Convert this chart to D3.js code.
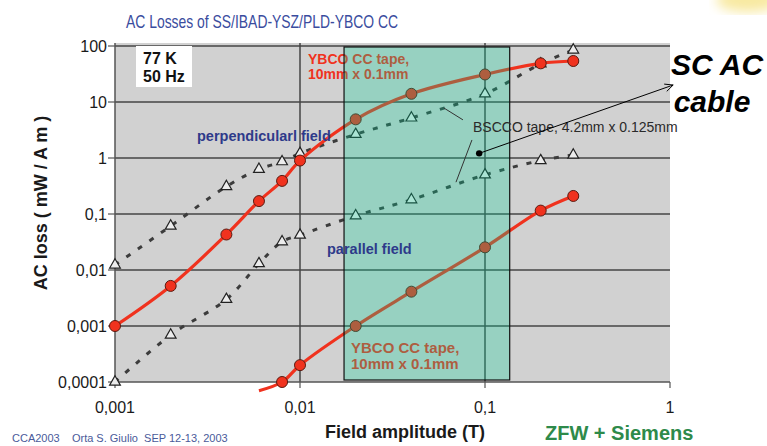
<!DOCTYPE html>
<html>
<head>
<meta charset="utf-8">
<script src="https://cdn.jsdelivr.net/npm/d3@7"></script>
<style>
  html, body { margin: 0; padding: 0; background: #fff; }
  svg { display: block; font-family: "Liberation Sans", Arial, sans-serif; }
</style>
</head>
<body>
<div id="chart"></div>
<script>
// Field amplitude (T) and AC loss (mW / A m)
const ybcoPerpX = [0.001, 0.002, 0.004, 0.006, 0.008, 0.01, 0.02, 0.04, 0.1, 0.2, 0.3];
const ybcoPerpY = [0.001, 0.0052, 0.043, 0.17, 0.39, 0.9, 4.9, 14, 31, 49, 54];

const bsccoPerpX = [0.001, 0.002, 0.004, 0.006, 0.008, 0.01, 0.02, 0.04, 0.1, 0.2, 0.3];
const bsccoPerpY = [0.0123, 0.061, 0.31, 0.63, 0.86, 1.21, 2.65, 5.2, 14, 48, 85];

const bsccoParX = [0.001, 0.002, 0.004, 0.006, 0.008, 0.01, 0.02, 0.04, 0.1, 0.2, 0.3];
const bsccoParY = [0.0001, 0.00069, 0.003, 0.013, 0.032, 0.042, 0.093, 0.18, 0.5, 0.9, 1.13];

const ybcoParX = [0.006, 0.008, 0.01, 0.02, 0.04, 0.1, 0.2, 0.3];
const ybcoParY = [0.00007, 0.0001, 0.0002, 0.001, 0.0041, 0.0254, 0.115, 0.21];

const xTicks = [0.001, 0.01, 0.1, 1];
const yTicks = [0.0001, 0.001, 0.01, 0.1, 1, 10, 100];
const fmtComma = v => String(v).replace(".", ",");

// highlighted range of the SC AC cable
const bandX = [0.0173, 0.136];

const W = 767, H = 446;
const svg = d3.select("#chart").append("svg").attr("width", W).attr("height", H);

const x = d3.scaleLog().domain([0.001, 1]).range([115, 670]);
const y = d3.scaleLog().domain([0.0001, 100]).range([382, 46]);

// faint yellow blob top right
svg.append("defs").append("filter").attr("id", "blur")
  .append("feGaussianBlur").attr("stdDeviation", 6);
svg.append("ellipse").attr("cx", 748).attr("cy", 0).attr("rx", 32).attr("ry", 12)
  .attr("fill", "#f8e9a0").attr("filter", "url(#blur)");

// plot background
svg.append("rect").attr("x", 115).attr("y", 43).attr("width", 555).attr("height", 339)
  .attr("fill", "#d1d1d1");

// grid
svg.append("g").selectAll("line").data(yTicks.slice(1)).join("line")
  .attr("x1", 115).attr("x2", 670).attr("y1", d => y(d)).attr("y2", d => y(d))
  .attr("stroke", "#444").attr("stroke-width", 1.5);
svg.append("g").selectAll("line").data([0.01, 0.1]).join("line")
  .attr("x1", d => x(d)).attr("x2", d => x(d)).attr("y1", 43).attr("y2", 382)
  .attr("stroke", "#444").attr("stroke-width", 1.5);

// axes
svg.append("line").attr("x1", 115).attr("x2", 115).attr("y1", 43).attr("y2", 382)
  .attr("stroke", "#555").attr("stroke-width", 1.5);
svg.append("line").attr("x1", 115).attr("x2", 670).attr("y1", 382).attr("y2", 382)
  .attr("stroke", "#555").attr("stroke-width", 1.5);
svg.append("g").selectAll("line").data(yTicks).join("line")
  .attr("x1", 108).attr("x2", 115).attr("y1", d => y(d)).attr("y2", d => y(d))
  .attr("stroke", "#555").attr("stroke-width", 1.2);
svg.append("g").selectAll("line").data(xTicks).join("line")
  .attr("x1", d => x(d)).attr("x2", d => x(d)).attr("y1", 382).attr("y2", 388)
  .attr("stroke", "#555").attr("stroke-width", 1.2);

svg.append("g").selectAll("text").data(yTicks).join("text")
  .attr("x", 107).attr("y", d => y(d) + 6).attr("text-anchor", "end")
  .attr("font-size", 16).attr("fill", "#1a1a1a").text(fmtComma);
svg.append("g").selectAll("text").data(xTicks).join("text")
  .attr("x", d => x(d)).attr("y", 413).attr("text-anchor", "middle")
  .attr("font-size", 16).attr("fill", "#1a1a1a").text(fmtComma);

// series
const pts = (xs, ys) => xs.map((v, i) => [v, ys[i]]);
const line = d3.line().x(d => x(d[0])).y(d => y(d[1])).curve(d3.curveCatmullRom.alpha(0.5));
const inDomain = d => d[1] >= 0.0001;

function dashed(data) {
  svg.append("path").datum(data).attr("d", line).attr("fill", "none")
    .attr("stroke", "#3c3c3c").attr("stroke-width", 3).attr("stroke-dasharray", "5,9");
  svg.append("g").selectAll("path").data(data).join("path")
    .attr("d", d3.symbol(d3.symbolTriangle, 50))
    .attr("transform", d => `translate(${x(d[0])},${y(d[1])})`)
    .attr("fill", "#ececec").attr("stroke", "#222").attr("stroke-width", 1.2);
}
function solid(data) {
  svg.append("path").datum(data).attr("d", line).attr("fill", "none")
    .attr("stroke", "#f0321e").attr("stroke-width", 3.2);
  svg.append("g").selectAll("circle").data(data.filter(inDomain)).join("circle")
    .attr("cx", d => x(d[0])).attr("cy", d => y(d[1])).attr("r", 5.5)
    .attr("fill", "#f0321e").attr("stroke", "#5a1a10").attr("stroke-width", 1);
}

dashed(pts(bsccoPerpX, bsccoPerpY));
dashed(pts(bsccoParX, bsccoParY));
solid(pts(ybcoPerpX, ybcoPerpY));
solid(pts(ybcoParX, ybcoParY));

// labels in the plot (under the band so they tint the same way)
const lbl = (tx, ty, s, size, color, weight) => svg.append("text")
  .attr("x", tx).attr("y", ty).attr("font-size", size).attr("fill", color)
  .attr("font-weight", weight || "bold").text(s);

lbl(308, 64, "YBCO CC tape,", 14, "#f0321e");
lbl(308, 79, "10mm x 0.1mm", 14, "#f0321e");
lbl(351, 353, "YBCO CC tape,", 15, "#f0321e");
lbl(351, 369, "10mm x 0.1mm", 15, "#f0321e");

// SC AC cable band
svg.append("rect")
  .attr("x", x(bandX[0])).attr("y", 47)
  .attr("width", x(bandX[1]) - x(bandX[0])).attr("height", 333)
  .attr("fill", "rgb(0,208,151)").attr("fill-opacity", 0.28)
  .attr("stroke", "#111").attr("stroke-width", 1.2);

lbl(197, 141, "perpendicularl field", 14.5, "#2e3a8a");
lbl(327, 254, "parallel field", 14.5, "#2e3a8a");
lbl(473, 132, "BSCCO tape, 4.2mm x 0.125mm", 14, "#2a2a2a", "normal");

// leader lines to BSCCO label
const leader = [[[0.06, 7.8], [0.076, 4.8]], [[0.085, 2.1], [0.0697, 0.37]]];
svg.append("g").selectAll("line").data(leader).join("line")
  .attr("x1", d => x(d[0][0])).attr("y1", d => y(d[0][1]))
  .attr("x2", d => x(d[1][0])).attr("y2", d => y(d[1][1]))
  .attr("stroke", "#333").attr("stroke-width", 1);

// legend box
svg.append("rect").attr("x", 136).attr("y", 46).attr("width", 56).attr("height", 41).attr("fill", "#fff");
lbl(143, 64, "77 K", 16, "#111");
lbl(143, 82, "50 Hz", 16, "#111");

// arrow to "SC AC cable"
const arrowFrom = [0.093, 1.21], arrowTo = [1.04, 20.1];
const ax1 = x(arrowFrom[0]), ay1 = y(arrowFrom[1]), ax2 = x(arrowTo[0]), ay2 = y(arrowTo[1]);
svg.append("line").attr("x1", ax1).attr("y1", ay1).attr("x2", ax2).attr("y2", ay2)
  .attr("stroke", "#000").attr("stroke-width", 1);
const ang = Math.atan2(ay2 - ay1, ax2 - ax1);
[ang + 2.7, ang - 2.7].forEach(a => svg.append("line")
  .attr("x1", ax2).attr("y1", ay2)
  .attr("x2", ax2 + 9 * Math.cos(a)).attr("y2", ay2 + 9 * Math.sin(a))
  .attr("stroke", "#000").attr("stroke-width", 1));
svg.append("circle").attr("cx", ax1).attr("cy", ay1).attr("r", 3.2).attr("fill", "#000");

svg.append("text").attr("x", 717).attr("y", 75).attr("text-anchor", "middle")
  .attr("font-size", 30).attr("font-weight", "bold").attr("font-style", "italic")
  .attr("fill", "#000").text("SC AC");
svg.append("text").attr("x", 712).attr("y", 112).attr("text-anchor", "middle")
  .attr("font-size", 30).attr("font-weight", "bold").attr("font-style", "italic")
  .attr("fill", "#000").text("cable");

// title and axis titles
svg.append("text").attr("x", 262).attr("y", 28).attr("text-anchor", "middle")
  .attr("font-size", 18.5).attr("fill", "#3a4c9e")
  .attr("textLength", 272).attr("lengthAdjust", "spacingAndGlyphs")
  .text("AC Losses of SS/IBAD-YSZ/PLD-YBCO CC");
svg.append("text").attr("transform", "translate(47,203) rotate(-90)").attr("text-anchor", "middle")
  .attr("font-size", 18).attr("font-weight", "bold").attr("fill", "#1a1a1a")
  .text("AC loss ( mW / A m )");
svg.append("text").attr("x", 405).attr("y", 438).attr("text-anchor", "middle")
  .attr("font-size", 18).attr("font-weight", "bold").attr("fill", "#1a1a1a")
  .text("Field amplitude (T)");

// footer
svg.append("text").attr("x", 12).attr("y", 442).attr("font-size", 11).attr("fill", "#4a5a9a")
  .attr("xml:space", "preserve").text("CCA2003    Orta S. Giulio  SEP 12-13, 2003");
svg.append("text").attr("x", 545).attr("y", 440).attr("font-size", 20).attr("font-weight", "bold")
  .attr("fill", "#2e8a4a").text("ZFW + Siemens");
</script>
</body>
</html>
